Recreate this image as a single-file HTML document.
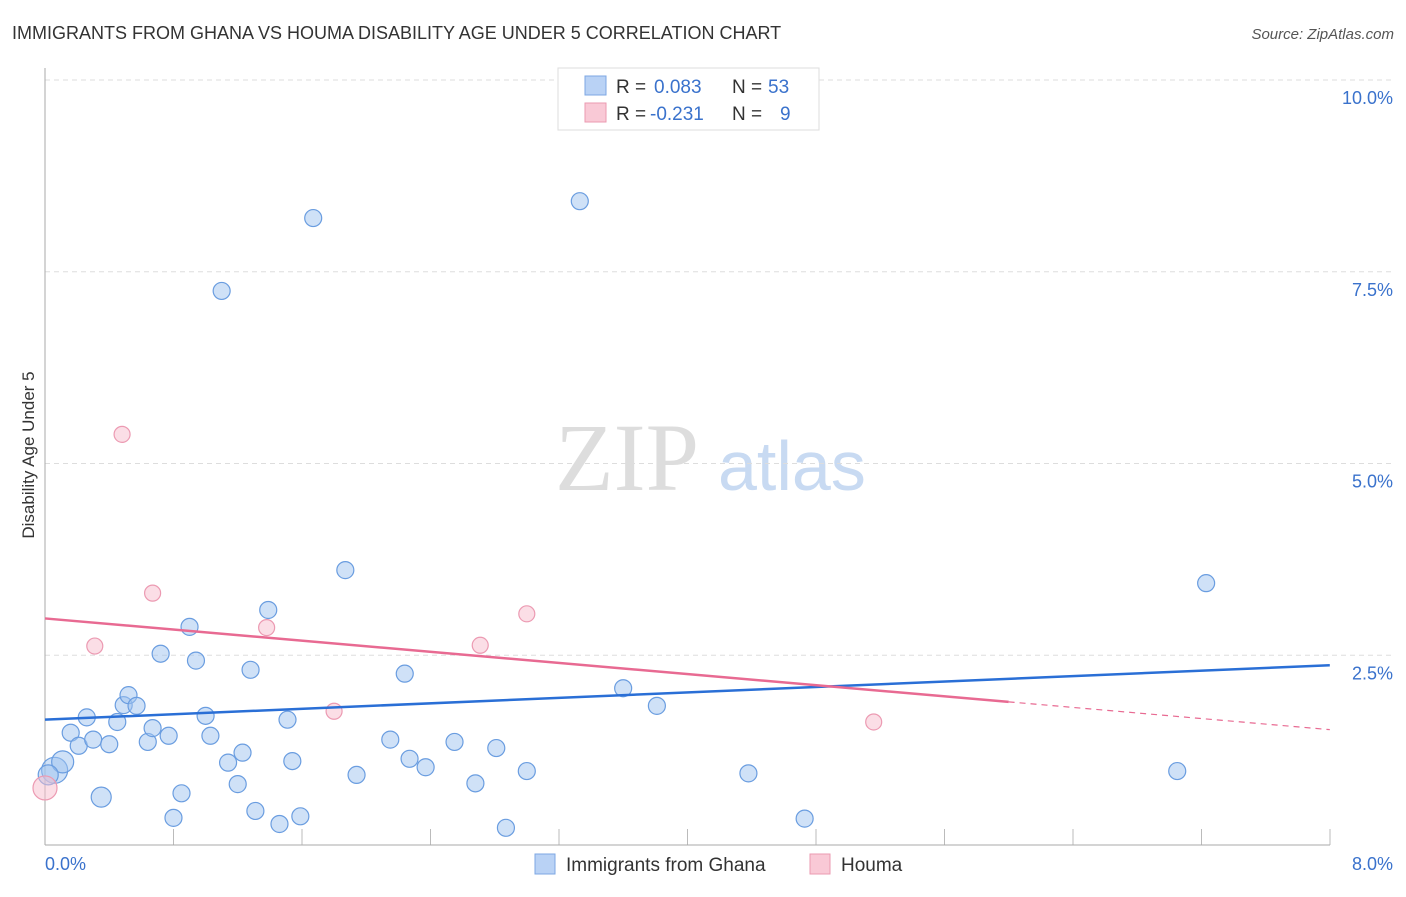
<!DOCTYPE html>
<html><head><meta charset="utf-8"><style>
body{margin:0;background:#fff;font-family:"Liberation Sans",sans-serif;}
</style></head><body>
<svg width="1406" height="892" xmlns="http://www.w3.org/2000/svg" id="svg">
<text x="12" y="39" font-size="18" fill="#333">IMMIGRANTS FROM GHANA VS HOUMA DISABILITY AGE UNDER 5 CORRELATION CHART</text>
<text x="1394" y="39" font-size="15" fill="#555" font-style="italic" text-anchor="end">Source: ZipAtlas.com</text>
<text x="34" y="455" font-size="17" fill="#333" text-anchor="middle" transform="rotate(-90 34 455)">Disability Age Under 5</text>
<g><text x="555" y="490" font-size="96" fill="#ddd" font-family="Liberation Serif,serif">ZIP</text><text x="718" y="490" font-size="70" fill="#c8daf2">atlas</text></g>
<g id="grid"></g><g id="pts"></g><g id="trend"></g>
<g>
<rect x="558" y="68" width="261" height="62" fill="#fff" stroke="#ddd"/>
<rect x="585" y="76" width="21" height="19" fill="#b9d2f5" stroke="#7da7e3"/>
<text x="616" y="93" font-size="19" fill="#333">R = </text><text x="654" y="93" font-size="19" fill="#3a72cc">0.083</text>
<text x="732" y="93" font-size="19" fill="#333">N = </text><text x="768" y="93" font-size="19" fill="#3a72cc">53</text>
<rect x="585" y="103" width="21" height="19" fill="#f9c9d6" stroke="#eb9ab0"/>
<text x="616" y="120" font-size="19" fill="#333">R = </text><text x="650" y="120" font-size="19" fill="#3a72cc">-0.231</text>
<text x="732" y="120" font-size="19" fill="#333">N = </text><text x="780" y="120" font-size="19" fill="#3a72cc">9</text>
</g>
<g>
<rect x="535" y="854" width="20" height="20" fill="#b9d2f5" stroke="#7da7e3"/>
<text x="566" y="871" font-size="19" fill="#333">Immigrants from Ghana</text>
<rect x="810" y="854" width="20" height="20" fill="#f9c9d6" stroke="#eb9ab0"/>
<text x="841" y="871" font-size="19" fill="#333">Houma</text>
</g>
</svg>
<script>
const yTicks=[2.5,5.0,7.5,10.0];
const yTickLabels=["2.5%","5.0%","7.5%","10.0%"];
const xTicks=[1,2,3,4,5,6,7,8,9,10];
const xTickLabels=["0.0%","8.0%"];
const ghanaX=[0.06,0.11,0.02,0.35,0.16,0.21,0.26,0.30,0.40,0.45,0.49,0.52,0.57,0.64,0.67,0.72,0.77,0.80,0.85,0.90,0.94,1.00,1.03,1.10,1.14,1.20,1.23,1.28,1.31,1.39,1.46,1.51,1.54,1.59,1.67,1.87,1.94,2.15,2.24,2.27,2.37,2.55,2.68,2.81,2.87,3.00,3.33,3.60,3.81,4.38,4.73,7.05,7.23];
const ghanaY=[1.00,1.11,0.94,0.65,1.49,1.32,1.69,1.40,1.34,1.63,1.85,1.98,1.84,1.37,1.55,2.52,1.45,0.38,0.70,2.87,2.43,1.71,1.45,7.25,1.10,0.82,1.23,2.31,0.47,3.09,0.30,1.66,1.12,0.40,8.20,3.61,0.94,1.40,2.26,1.15,1.04,1.37,0.83,1.29,0.25,0.99,8.42,2.07,1.84,0.96,0.37,0.99,3.44];
const ghanaR=[13,11,10,10];
const houmaX=[0.0,0.31,0.48,0.67,1.38,1.80,2.71,3.00,5.16];
const houmaY=[0.77,2.62,5.38,3.31,2.86,1.77,2.63,3.04,1.63];
const ghanaTrend=[1.66,2.37];
const houmaTrend=[2.98,1.53];
const houmaSolidEnd=6.0;
const X=v=>45+v*160.6, Y=v=>847-v*76.7;
const NS="http://www.w3.org/2000/svg";
function mk(p,t,a){const e=document.createElementNS(NS,t);for(const k in a)e.setAttribute(k,a[k]);document.getElementById(p).appendChild(e);return e;}
yTicks.forEach((v,i)=>{
 const l=mk('grid','line',{x1:45,x2:1395,y1:Y(v),y2:Y(v),stroke:'#ddd','stroke-dasharray':'5,4'});
 
 
 const t=mk('grid','text',{x:1393,y:Y(v)+24,'font-size':18,fill:'#3a72cc','text-anchor':'end'});t.textContent=yTickLabels[i];
 
 
});
xTicks.forEach(v=>{const l=mk('grid','line',{x1:45+v*128.5,x2:45+v*128.5,y1:829,y2:845,stroke:'#bbb'});
 
 });
let a=mk('grid','line',{x1:45,x2:45,y1:68,y2:845,stroke:'#aaa'});


a=mk('grid','line',{x1:45,x2:1330,y1:845,y2:845,stroke:'#aaa'});


[[0,45,'start'],[8,1393,'end']].forEach((d,i)=>{const t=mk('grid','text',{x:d[1],y:870,'font-size':18,fill:'#3a72cc','text-anchor':d[2]});t.textContent=xTickLabels[i];
 
 });
ghanaX.forEach((x,i)=>{const c=mk('pts','circle',{cx:X(x),cy:Y(ghanaY[i]),r:ghanaR[i]||8.5,fill:'rgba(160,195,240,0.5)',stroke:'#6a9de0','stroke-width':1.2});
 
 });
houmaX.forEach((x,i)=>{const c=mk('pts','circle',{cx:X(x),cy:Y(houmaY[i]),r:i==0?12:8,fill:'rgba(248,190,205,0.5)',stroke:'#ec9ab2','stroke-width':1.2});
 
 });
let t=mk('trend','line',{x1:X(0),y1:Y(ghanaTrend[0]),x2:X(8),y2:Y(ghanaTrend[1]),stroke:'#2a6fd6','stroke-width':2.5});


const hy=x=>houmaTrend[0]+(houmaTrend[1]-houmaTrend[0])*x/8;
t=mk('trend','line',{x1:X(0),y1:Y(hy(0)),x2:X(houmaSolidEnd),y2:Y(hy(houmaSolidEnd)),stroke:'#e86a92','stroke-width':2.5});


t=mk('trend','line',{x1:X(houmaSolidEnd),y1:Y(hy(houmaSolidEnd)),x2:X(8),y2:Y(hy(8)),stroke:'#e86a92','stroke-width':1.2,'stroke-dasharray':'6,5'});


</script>
</body></html>
